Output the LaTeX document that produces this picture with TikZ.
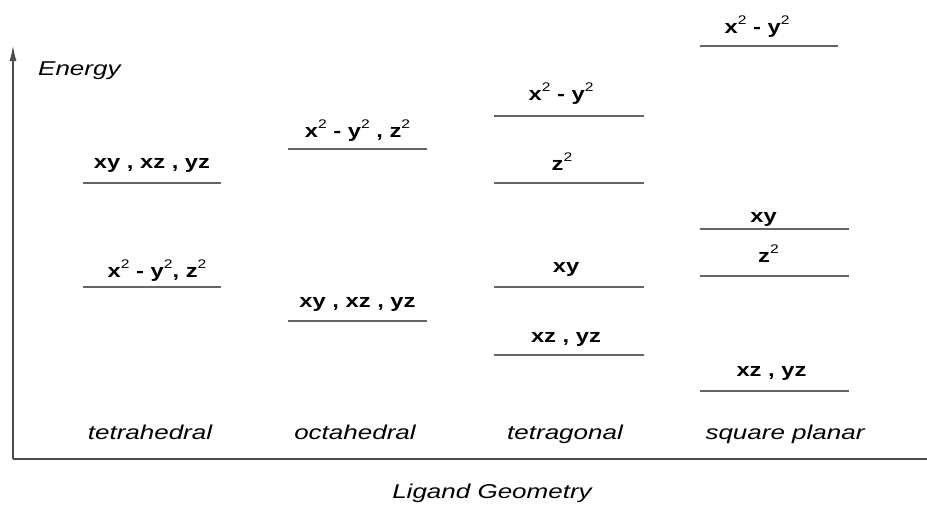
\documentclass[tikz,border=0pt]{standalone}
\usepackage{fontspec}
\setmainfont{Liberation Sans}
\newfontfamily\orbfont[FakeStretch=1.25]{Liberation Sans}
\newfontfamily\geofont[FakeStretch=1.3]{Liberation Sans}
\usepackage{tikz}
\usetikzlibrary{arrows.meta}
\newcommand{\pwr}{\raisebox{0.8ex}{\fontsize{12.5}{12.5}\selectfont\mdseries 2}}
\tikzset{
  lvl/.style  = {draw=black!60, line width=1.9pt},
  orb/.style  = {font=\orbfont\fontsize{19}{19}\selectfont\bfseries,
                 anchor=base, inner sep=0pt, yshift=14pt},
  geo/.style  = {font=\geofont\fontsize{20}{20}\selectfont\itshape,
                 anchor=base, inner sep=0pt},
  axis/.style = {draw=black!70, line width=1.8pt},
}

\begin{document}
\begin{tikzpicture}[x=1pt, y=-1pt]
  \useasboundingbox (0,0) rectangle (927,504);
  % axes
  \coordinate (org) at (13,459);
  \coordinate (etop) at (13,45);
  \coordinate (gend) at (927,459);
  \draw[axis, -{Latex[length=16pt, width=7pt]}] (org) -- (etop);
  \draw[axis] (org) -- (gend);
  \node[geo, anchor=base west] (energy) at (38,75) {Energy};
  \node[geo] (ligand) at (492,498) {Ligand Geometry};
  % level end points
  \coordinate (td1a) at (83,183);  \coordinate (td1b) at (221,183);
  \coordinate (td2a) at (83,287);  \coordinate (td2b) at (221,287);
  \coordinate (oh1a) at (288,149); \coordinate (oh1b) at (427,149);
  \coordinate (oh2a) at (288,321); \coordinate (oh2b) at (427,321);
  \coordinate (tg1a) at (494,116); \coordinate (tg1b) at (644,116);
  \coordinate (tg2a) at (494,183); \coordinate (tg2b) at (644,183);
  \coordinate (tg3a) at (494,287); \coordinate (tg3b) at (644,287);
  \coordinate (tg4a) at (494,355); \coordinate (tg4b) at (644,355);
  \coordinate (sp1a) at (700,46);  \coordinate (sp1b) at (838,46);
  \coordinate (sp2a) at (700,229); \coordinate (sp2b) at (849,229);
  \coordinate (sp3a) at (700,276); \coordinate (sp3b) at (849,276);
  \coordinate (sp4a) at (700,391); \coordinate (sp4b) at (849,391);
  % tetrahedral
  \draw[lvl] (td1a) -- node[orb, yshift=1pt] (td1) {xy , xz , yz} (td1b);
  \draw[lvl] (td2a) -- node[orb, xshift=5pt, yshift=-4pt] (td2) {x\pwr\ - y\pwr, z\pwr} (td2b);
  % octahedral
  \draw[lvl] (oh1a) -- node[orb, yshift=-2pt] (oh1) {x\pwr\ - y\pwr\ , z\pwr} (oh1b);
  \draw[lvl] (oh2a) -- node[orb] (oh2) {xy , xz , yz} (oh2b);
  % tetragonal
  \draw[lvl] (tg1a) -- node[orb, xshift=-8pt, yshift=2pt] (tg1) {x\pwr\ - y\pwr} (tg1b);
  \draw[lvl] (tg2a) -- node[orb, xshift=-7pt, yshift=-1pt] (tg2) {z\pwr} (tg2b);
  \draw[lvl] (tg3a) -- node[orb, xshift=-3pt, yshift=1pt] (tg3) {xy} (tg3b);
  \draw[lvl] (tg4a) -- node[orb, xshift=-3pt, yshift=-1pt] (tg4) {xz , yz} (tg4b);
  % square planar
  \draw[lvl] (sp1a) -- node[orb, xshift=-12pt, yshift=-1pt] (sp1) {x\pwr\ - y\pwr} (sp1b);
  \draw[lvl] (sp2a) -- node[orb, xshift=-11pt, yshift=-7pt] (sp2) {xy} (sp2b);
  \draw[lvl] (sp3a) -- node[orb, xshift=-6pt] (sp3) {z\pwr} (sp3b);
  \draw[lvl] (sp4a) -- node[orb, xshift=-3pt, yshift=1pt] (sp4) {xz , yz} (sp4b);
  % geometry names
  \node[geo] (tetra) at (150,439) {tetrahedral};
  \node[geo] (octa)  at (355,439) {octahedral};
  \node[geo] (tgnl)  at (565,439) {tetragonal};
  \node[geo] (sqpl)  at (785,439) {square planar};
\end{tikzpicture}
\end{document}
